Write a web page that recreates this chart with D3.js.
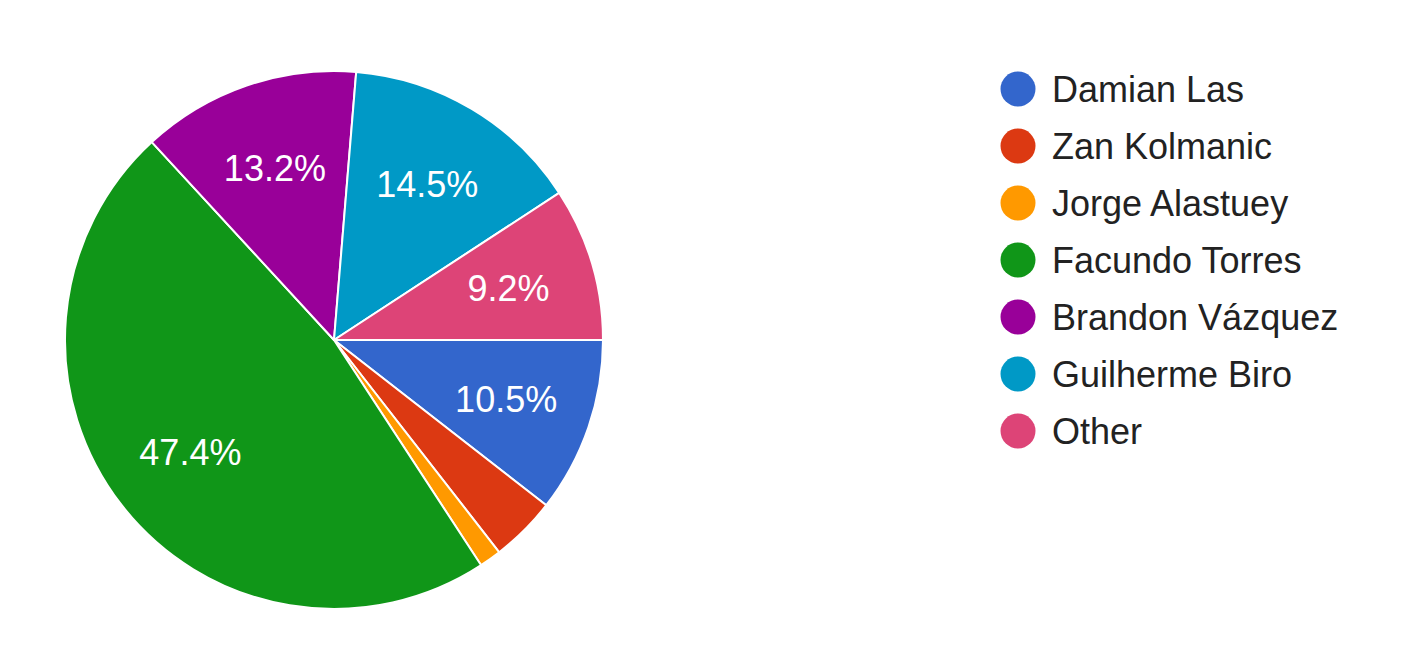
<!DOCTYPE html>
<html>
<head>
<meta charset="utf-8">
<script src="https://cdnjs.cloudflare.com/ajax/libs/d3/7.8.5/d3.min.js"></script>
<style>
  body { margin: 0; background: #fff; }
  svg { display: block; font-family: "Liberation Sans", Arial, sans-serif; }
</style>
</head>
<body>
<svg id="chart" width="1405" height="666"></svg>
<script>
// data (76 responses)
var names = ["Damian Las", "Zan Kolmanic", "Jorge Alastuey", "Facundo Torres", "Brandon Vázquez", "Guilherme Biro", "Other"];
var counts = [8, 3, 1, 36, 10, 11, 7];
var colors = ["#3366cc", "#dc3912", "#ff9900", "#109618", "#990099", "#0099c6", "#dd4477"];

var svg = d3.select("#chart");
var cx = 334, cy = 340, radius = 269;
var total = d3.sum(counts);

var pie = d3.pie()
    .sort(null)
    .value(function(d) { return d; })
    .startAngle(Math.PI / 2)
    .endAngle(Math.PI / 2 + 2 * Math.PI);

var arc = d3.arc().innerRadius(0).outerRadius(radius);
var labelArc = d3.arc().innerRadius(182).outerRadius(182);

var g = svg.append("g").attr("transform", "translate(" + cx + "," + cy + ")");
var arcs = pie(counts);

g.selectAll("path")
    .data(arcs)
    .enter()
    .append("path")
    .attr("d", arc)
    .attr("fill", function(d, i) { return colors[i]; })
    .attr("stroke", "#fff")
    .attr("stroke-width", 2)
    .attr("stroke-linejoin", "round");

// percentages only on the bigger slices
g.selectAll("text.pct")
    .data(arcs.filter(function(d) { return d.value / total > 0.05; }))
    .enter()
    .append("text")
    .attr("class", "pct")
    .attr("transform", function(d) { return "translate(" + labelArc.centroid(d) + ")"; })
    .attr("text-anchor", "middle")
    .attr("dy", "0.36em")
    .attr("fill", "#fff")
    .style("font-size", "36px")
    .text(function(d) { return (d.value / total * 100).toFixed(1) + "%"; });

// legend
var legend = svg.append("g").attr("transform", "translate(1018,89)");
var rows = legend.selectAll("g")
    .data(names)
    .enter()
    .append("g")
    .attr("transform", function(d, i) { return "translate(0," + (i * 57) + ")"; });

rows.append("circle")
    .attr("r", 17.5)
    .attr("fill", function(d, i) { return colors[i]; });

rows.append("text")
    .attr("x", 34)
    .attr("dy", "0.36em")
    .attr("fill", "#222")
    .style("font-size", "36px")
    .text(function(d) { return d; });
</script>
</body>
</html>
